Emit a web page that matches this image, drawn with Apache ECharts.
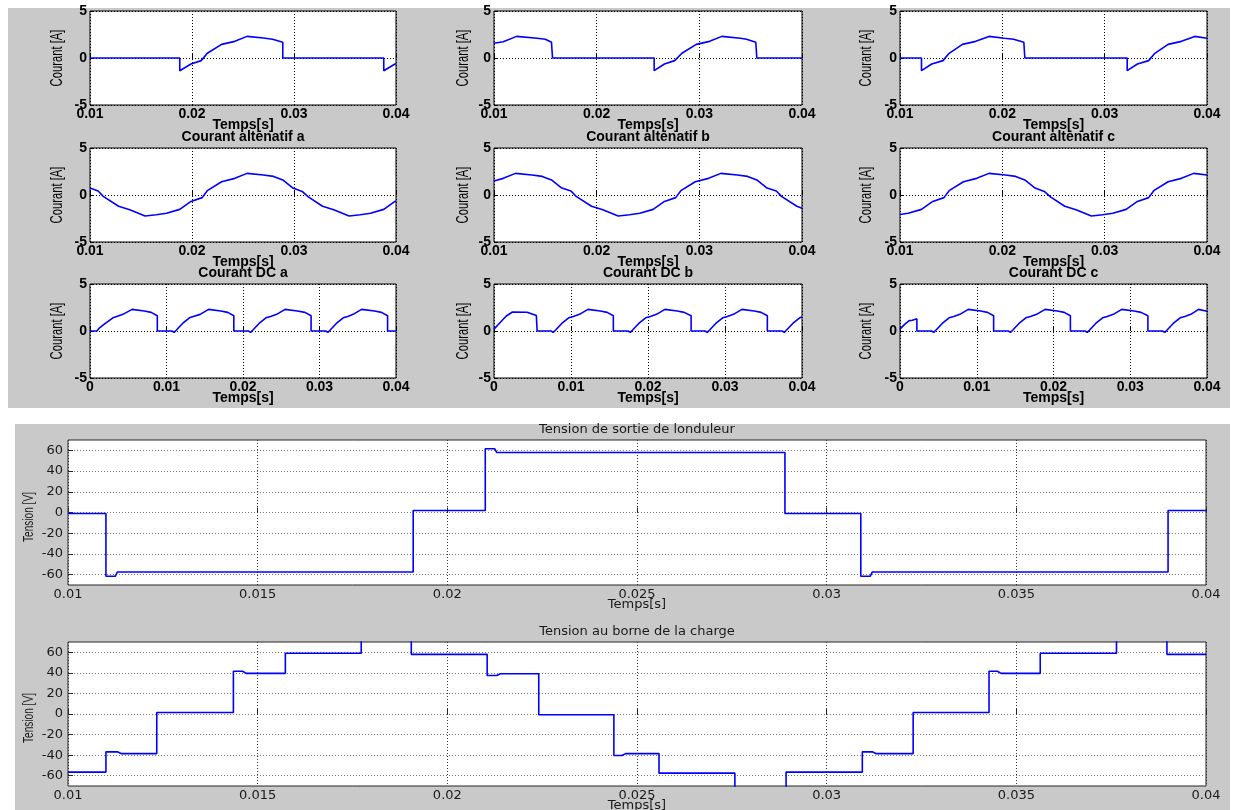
<!DOCTYPE html>
<html>
<head>
<meta charset="utf-8">
<script src="https://cdn.jsdelivr.net/npm/echarts@6/dist/echarts.min.js"></script>
<style>
  html, body { margin: 0; padding: 0; background: #ffffff; }
  #chart { width: 1235px; height: 810px; }
</style>
</head>
<body>
<div id="chart"></div>
<script>
// ---------- data (time in s, current in A, voltage in V) ----------
const timeTicksTop = [0.01, 0.02, 0.03, 0.04];
const timeTicksDC = [0, 0.01, 0.02, 0.03, 0.04];
const currentTicks = [-5, 0, 5];
const voltageTicks = [-60, -40, -20, 0, 20, 40, 60];

// phase currents (first row)
const phaseA = [[0.0100,0],[0.0188,0],[0.0188,-1.35],[0.0199,-0.64],[0.0209,-0.28],[0.0215,0.5],[0.0229,1.45],[0.0242,1.77],[0.0254,2.3],[0.0270,2.12],[0.0279,2.0],[0.0289,1.67],[0.0289,0],[0.0388,0],[0.0388,-1.35],[0.0399,-0.64],[0.0400,-0.6]];
const phaseB = [[0.0100,1.56],[0.0109,1.73],[0.0122,2.3],[0.0142,2.1],[0.0150,2.0],[0.0156,1.67],[0.0157,0],[0.0256,0],[0.0256,-1.35],[0.0266,-0.64],[0.0276,-0.28],[0.0283,0.5],[0.0297,1.45],[0.0310,1.77],[0.0322,2.3],[0.0340,2.1],[0.0346,2.0],[0.0355,1.67],[0.0356,0],[0.0400,0]];
const phaseC = [[0.0100,0],[0.0121,0],[0.0121,-1.35],[0.0131,-0.64],[0.0142,-0.28],[0.0148,0.5],[0.0161,1.45],[0.0174,1.77],[0.0187,2.3],[0.0202,2.1],[0.0211,2.0],[0.0221,1.67],[0.0222,0],[0.0322,0],[0.0322,-1.35],[0.0332,-0.64],[0.0343,-0.28],[0.0349,0.5],[0.0362,1.45],[0.0375,1.77],[0.0388,2.3],[0.0400,2.1]];

// AC currents (second row)
const acA = [[0.0100,0.74],[0.0108,0.42],[0.0113,-0.15],[0.0128,-1.2],[0.0139,-1.56],[0.0154,-2.24],[0.0165,-2.1],[0.0175,-1.95],[0.0188,-1.53],[0.0199,-0.68],[0.0210,-0.28],[0.0215,0.46],[0.0229,1.41],[0.0242,1.77],[0.0254,2.3],[0.0270,2.12],[0.0280,1.98],[0.0289,1.6],[0.0299,0.74],[0.0308,0.38],[0.0314,-0.2],[0.0328,-1.2],[0.0339,-1.56],[0.0354,-2.24],[0.0365,-2.1],[0.0375,-1.95],[0.0388,-1.53],[0.0399,-0.68],[0.0400,-0.62]];
const acB = [[0.0100,1.5],[0.0109,1.77],[0.0121,2.3],[0.0137,2.12],[0.0147,1.98],[0.0156,1.6],[0.0166,0.74],[0.0175,0.42],[0.0180,-0.15],[0.0195,-1.2],[0.0206,-1.56],[0.0221,-2.24],[0.0232,-2.1],[0.0242,-1.95],[0.0255,-1.53],[0.0266,-0.68],[0.0277,-0.28],[0.0282,0.46],[0.0296,1.41],[0.0309,1.77],[0.0321,2.3],[0.0337,2.12],[0.0347,1.98],[0.0356,1.6],[0.0366,0.74],[0.0375,0.42],[0.0380,-0.15],[0.0395,-1.2],[0.0400,-1.4]];
const acC = [[0.0100,-2.08],[0.0108,-1.95],[0.0121,-1.53],[0.0132,-0.68],[0.0143,-0.28],[0.0148,0.46],[0.0162,1.41],[0.0175,1.77],[0.0187,2.3],[0.0203,2.12],[0.0213,1.98],[0.0222,1.6],[0.0232,0.74],[0.0241,0.38],[0.0247,-0.2],[0.0261,-1.2],[0.0272,-1.56],[0.0287,-2.24],[0.0298,-2.1],[0.0308,-1.95],[0.0321,-1.53],[0.0332,-0.68],[0.0343,-0.28],[0.0348,0.46],[0.0362,1.41],[0.0375,1.77],[0.0387,2.3],[0.0400,2.12]];

// DC currents (third row)
const dcA = [[0,0],[0.0009,0],[0.0012,0.3],[0.0020,0.8],[0.0030,1.4],[0.0035,1.55],[0.0043,1.77],[0.0055,2.3],[0.0071,2.12],[0.0080,1.98],[0.0088,1.63],[0.0088,0],
  [0.0107,0],[0.0110,-0.15],[0.0113,0.1],[0.0121,0.8],[0.0130,1.4],[0.0135,1.55],[0.0144,1.77],[0.0155,2.3],[0.0171,2.12],[0.0180,1.98],[0.0188,1.63],[0.0188,0],
  [0.0207,0],[0.0210,-0.15],[0.0213,0.1],[0.0221,0.8],[0.0230,1.4],[0.0236,1.55],[0.0244,1.77],[0.0255,2.3],[0.0271,2.12],[0.0281,1.98],[0.0289,1.63],[0.0289,0],
  [0.0308,0],[0.0311,-0.15],[0.0314,0.1],[0.0322,0.8],[0.0331,1.4],[0.0337,1.55],[0.0344,1.77],[0.0355,2.3],[0.0372,2.12],[0.0381,1.98],[0.0389,1.63],[0.0389,0],[0.0400,0]];
const dcB = [[0,0.2],[0.0008,0.9],[0.0016,1.6],[0.0024,2.02],[0.0043,2.0],[0.0055,1.65],[0.0056,0],
  [0.0074,0],[0.0077,-0.15],[0.0080,0.1],[0.0088,0.8],[0.0097,1.4],[0.0103,1.55],[0.0111,1.77],[0.0122,2.3],[0.0138,2.12],[0.0147,1.98],[0.0155,1.63],[0.0155,0],
  [0.0174,0],[0.0177,-0.15],[0.0180,0.1],[0.0188,0.8],[0.0197,1.4],[0.0203,1.55],[0.0211,1.77],[0.0222,2.3],[0.0238,2.12],[0.0247,1.98],[0.0256,1.63],[0.0256,0],
  [0.0274,0],[0.0277,-0.15],[0.0280,0.1],[0.0288,0.8],[0.0297,1.4],[0.0303,1.55],[0.0311,1.77],[0.0322,2.3],[0.0338,2.12],[0.0347,1.98],[0.0355,1.63],[0.0355,0],
  [0.0374,0],[0.0377,-0.15],[0.0380,0.1],[0.0388,0.8],[0.0397,1.4],[0.0400,1.5]];
const dcC = [[0,0.2],[0.0006,0.7],[0.0012,1.1],[0.0016,1.15],[0.0022,1.3],[0.0022,0],
  [0.0041,0],[0.0044,-0.15],[0.0047,0.1],[0.0055,0.8],[0.0064,1.4],[0.0070,1.55],[0.0078,1.77],[0.0089,2.3],[0.0105,2.12],[0.0114,1.98],[0.0122,1.63],[0.0122,0],
  [0.0141,0],[0.0144,-0.15],[0.0147,0.1],[0.0155,0.8],[0.0164,1.4],[0.0170,1.55],[0.0178,1.77],[0.0189,2.3],[0.0205,2.12],[0.0214,1.98],[0.0222,1.63],[0.0222,0],
  [0.0241,0],[0.0244,-0.15],[0.0247,0.1],[0.0255,0.8],[0.0264,1.4],[0.0270,1.55],[0.0278,1.77],[0.0289,2.3],[0.0305,2.12],[0.0314,1.98],[0.0323,1.63],[0.0323,0],
  [0.0342,0],[0.0345,-0.15],[0.0348,0.1],[0.0356,0.8],[0.0365,1.4],[0.0371,1.55],[0.0379,1.77],[0.0389,2.3],[0.0400,2.1]];

// inverter output voltage
const vOnduleur = [[0.0100,-1],[0.0110,-1],[0.0110,-61.5],[0.01125,-61.5],[0.0113,-57.5],[0.0191,-57.5],[0.0191,2],[0.0210,2],[0.0210,61.5],[0.02125,61.5],[0.0213,58],[0.0289,58],[0.0289,-1],[0.0309,-1],[0.0309,-61.5],[0.03115,-61.5],[0.0312,-57.5],[0.0390,-57.5],[0.0390,2],[0.0400,2]];

// load terminal voltage
const vCharge = [[0.0100,-56.5],[0.0110,-56.5],[0.0110,-36.8],[0.0113,-36.8],[0.0114,-38.5],[0.01234,-38.5],[0.01234,1.5],[0.01436,1.5],[0.01436,41.5],[0.0146,41.5],[0.0147,39.5],[0.01573,39.5],[0.01573,59],[0.01773,59],[0.01773,80],[0.01905,80],[0.01905,58],[0.02105,58],[0.02105,37.5],[0.0213,37.5],[0.0214,39.2],[0.02241,39.2],[0.02241,-0.8],[0.02439,-0.8],[0.02439,-40.3],[0.0246,-40.3],[0.0247,-38.5],[0.02558,-38.5],[0.02558,-57.5],[0.02758,-57.5],[0.02758,-80],[0.02893,-80],[0.02893,-56.5],[0.03094,-56.5],[0.03094,-36.8],[0.0312,-36.8],[0.0313,-38.5],[0.03228,-38.5],[0.03228,1.5],[0.03428,1.5],[0.03428,41.5],[0.0345,41.5],[0.0346,39.5],[0.03563,39.5],[0.03563,59],[0.03764,59],[0.03764,80],[0.03897,80],[0.03897,58],[0.0400,58]];

// ---------- layout & styling ----------
const FONT = "'Liberation Sans', Arial, Helvetica, sans-serif";
const WIDE = "'DejaVu Sans', Verdana, sans-serif";
const BLUE = '#0000ff';

const fmtTime = v => (Math.abs(v) < 1e-9 ? '0' : String(+v.toFixed(4)));

const colX = [90, 494, 900];
const colW = [306, 308, 307];
const rowY = [11, 148, 284];
const rowH = 94;
const yNameX = [57, 463, 866];

const panels = [
  { data: phaseA, title: null, row: 0, col: 0, xmin: 0.01 },
  { data: phaseB, title: null, row: 0, col: 1, xmin: 0.01 },
  { data: phaseC, title: null, row: 0, col: 2, xmin: 0.01 },
  { data: acA, title: 'Courant altenatif a', row: 1, col: 0, xmin: 0.01 },
  { data: acB, title: 'Courant altenatif b', row: 1, col: 1, xmin: 0.01 },
  { data: acC, title: 'Courant altenatif c', row: 1, col: 2, xmin: 0.01 },
  { data: dcA, title: 'Courant DC a', row: 2, col: 0, xmin: 0 },
  { data: dcB, title: 'Courant DC b', row: 2, col: 1, xmin: 0 },
  { data: dcC, title: 'Courant DC c', row: 2, col: 2, xmin: 0 }
];

// vertical, condensed axis title
function sideLabel(text, x, y, size, squeeze, color) {
  return {
    type: 'text', silent: true, x: x, y: y, rotation: Math.PI / 2, scaleX: squeeze,
    style: { x: 0, y: 0, text: text, align: 'center', verticalAlign: 'middle',
             fill: color, fontFamily: FONT, fontSize: size }
  };
}

const option = {
  animation: false,
  backgroundColor: '#ffffff',
  grid: [], xAxis: [], yAxis: [], series: [],
  graphic: [
    { type: 'rect', z: -100, silent: true, shape: { x: 8, y: 8, width: 1222, height: 400 }, style: { fill: '#c9c9c9' } },
    { type: 'rect', z: -100, silent: true, shape: { x: 15, y: 424, width: 1215, height: 386 }, style: { fill: '#c9c9c9' } }
  ]
};

panels.forEach((p, i) => {
  const left = colX[p.col], top = rowY[p.row], width = colW[p.col];
  option.grid.push({
    left: left, top: top, width: width, height: rowH,
    show: true, backgroundColor: '#ffffff', borderColor: '#000000', borderWidth: 1,
    containLabel: false, outerBoundsMode: 'none'
  });
  option.xAxis.push({
    gridIndex: i, type: 'value', min: p.xmin, max: 0.04, interval: 0.01,
    axisLine: { show: false },
    axisTick: { show: true, inside: true, length: 4, lineStyle: { color: '#000' } },
    axisLabel: { margin: 2, color: '#000', fontFamily: FONT, fontSize: 14, fontWeight: 'bold', formatter: fmtTime },
    splitLine: { show: true, lineStyle: { color: '#000', width: 1, type: [1, 2] } },
    name: 'Temps[s]', nameLocation: 'middle', nameGap: 13, nameMoveOverlap: false,
    nameTextStyle: { color: '#000', fontFamily: FONT, fontSize: 14, fontWeight: 'bold' }
  });
  option.yAxis.push({
    gridIndex: i, type: 'value', min: -5, max: 5, interval: 5,
    axisLine: { show: false },
    axisTick: { show: true, inside: true, length: 4, lineStyle: { color: '#000' } },
    axisLabel: { margin: 3, color: '#000', fontFamily: FONT, fontSize: 14, fontWeight: 'bold' },
    splitLine: { show: true, lineStyle: { color: '#000', width: 1, type: [1, 2] } }
  });
  option.series.push({
    type: 'line', xAxisIndex: i, yAxisIndex: i, data: p.data,
    showSymbol: false, symbol: 'none', clip: true,
    lineStyle: { color: BLUE, width: 1.6 }
  });
  option.graphic.push(sideLabel('Courant [A]', yNameX[p.col], top + rowH / 2, 16.5, 0.68, '#000'));
  if (p.title) {
    option.graphic.push({
      type: 'text', silent: true,
      style: { x: left + width / 2, y: top - 11, text: p.title, align: 'center', verticalAlign: 'middle',
               fill: '#000', fontFamily: FONT, fontSize: 14, fontWeight: 'bold' }
    });
  }
});

// two voltage panels
const voltagePanels = [
  { data: vOnduleur, title: 'Tension de sortie de londuleur', top: 440, height: 145, nameY: 517 },
  { data: vCharge, title: 'Tension au borne de la charge', top: 642, height: 144, nameY: 718 }
];

voltagePanels.forEach((p, k) => {
  const i = panels.length + k;
  const left = 68, width = 1138;
  option.grid.push({
    left: left, top: p.top, width: width, height: p.height,
    show: true, backgroundColor: '#ffffff', borderColor: '#262626', borderWidth: 1,
    containLabel: false, outerBoundsMode: 'none'
  });
  option.xAxis.push({
    gridIndex: i, type: 'value', min: 0.01, max: 0.04, interval: 0.005,
    axisLine: { show: false },
    axisTick: { show: true, inside: true, length: 5, lineStyle: { color: '#262626' } },
    axisLabel: { margin: 3, color: '#1a1a1a', fontFamily: WIDE, fontSize: 13, formatter: fmtTime },
    splitLine: { show: true, lineStyle: { color: '#333', width: 1, type: [1, 2] } },
    name: 'Temps[s]', nameLocation: 'middle', nameGap: 13, nameMoveOverlap: false,
    nameTextStyle: { color: '#1a1a1a', fontFamily: WIDE, fontSize: 13 }
  });
  option.yAxis.push({
    gridIndex: i, type: 'value', min: -70, max: 70,
    axisLine: { show: false },
    axisTick: { show: true, inside: true, length: 5, customValues: voltageTicks, lineStyle: { color: '#262626' } },
    axisLabel: { margin: 5, color: '#1a1a1a', fontFamily: WIDE, fontSize: 13, customValues: voltageTicks },
    splitLine: { show: true, lineStyle: { color: '#777', width: 1, type: [1, 2] } }
  });
  option.series.push({
    type: 'line', xAxisIndex: i, yAxisIndex: i, data: p.data,
    showSymbol: false, symbol: 'none', clip: true,
    lineStyle: { color: BLUE, width: 1.6 }
  });
  option.graphic.push(sideLabel('Tension [V]', 29, p.nameY, 14, 0.72, '#1a1a1a'));
  option.graphic.push({
    type: 'text', silent: true,
    style: { x: left + width / 2, y: p.top - 10, text: p.title, align: 'center', verticalAlign: 'middle',
             fill: '#1a1a1a', fontFamily: WIDE, fontSize: 13 }
  });
});

const chart = echarts.init(document.getElementById('chart'), null, { renderer: 'canvas' });
chart.setOption(option);
</script>
</body>
</html>
